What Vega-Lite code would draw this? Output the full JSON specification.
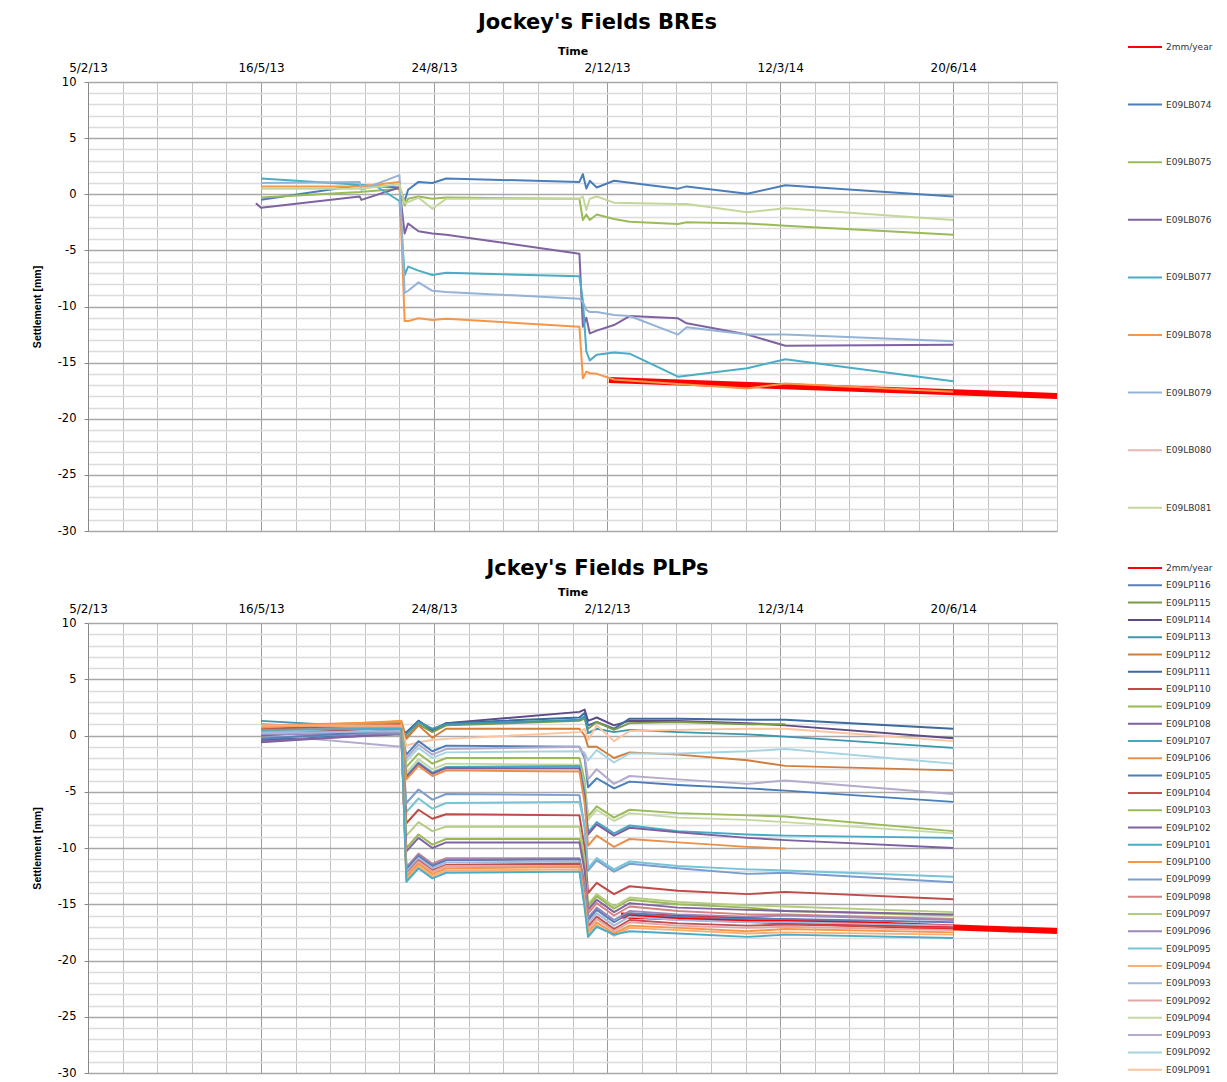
{
"$schema": "https://vega.github.io/schema/vega-lite/v6.json",
"background": "white",
"padding": {"left": 32, "top": 12, "right": 5, "bottom": 3},
"spacing": 21,
"config": {"view": {"stroke": null}, "line": {"strokeJoin": "round"}},
"resolve": {"scale": {"color": "independent"}, "legend": {"color": "independent"}},
"datasets": {
"bre": [
{"s":"2mm/year","t":"2013-12-03","v":-16.55},{"s":"2mm/year","t":"2014-08-19","v":-17.97},
{"s":"E09LB074","t":"2013-05-16","v":-0.5},{"s":"E09LB074","t":"2013-07-12","v":0.8},{"s":"E09LB074","t":"2013-08-04","v":0.6},{"s":"E09LB074","t":"2013-08-07","v":-0.6},{"s":"E09LB074","t":"2013-08-09","v":0.4},{"s":"E09LB074","t":"2013-08-15","v":1.1},{"s":"E09LB074","t":"2013-08-23","v":1.0},{"s":"E09LB074","t":"2013-08-31","v":1.4},{"s":"E09LB074","t":"2013-11-16","v":1.1},{"s":"E09LB074","t":"2013-11-18","v":1.8},{"s":"E09LB074","t":"2013-11-20","v":0.5},{"s":"E09LB074","t":"2013-11-22","v":1.2},{"s":"E09LB074","t":"2013-11-26","v":0.6},{"s":"E09LB074","t":"2013-12-06","v":1.2},{"s":"E09LB074","t":"2014-01-12","v":0.5},{"s":"E09LB074","t":"2014-01-17","v":0.7},{"s":"E09LB074","t":"2014-02-21","v":0.05},{"s":"E09LB074","t":"2014-03-15","v":0.8},{"s":"E09LB074","t":"2014-06-20","v":-0.2},
{"s":"E09LB075","t":"2013-05-16","v":-0.3},{"s":"E09LB075","t":"2013-07-12","v":0.2},{"s":"E09LB075","t":"2013-08-04","v":0.5},{"s":"E09LB075","t":"2013-08-07","v":-1.0},{"s":"E09LB075","t":"2013-08-09","v":-0.4},{"s":"E09LB075","t":"2013-08-15","v":-0.2},{"s":"E09LB075","t":"2013-08-23","v":-0.4},{"s":"E09LB075","t":"2013-08-31","v":-0.3},{"s":"E09LB075","t":"2013-11-16","v":-0.4},{"s":"E09LB075","t":"2013-11-18","v":-2.3},{"s":"E09LB075","t":"2013-11-20","v":-1.8},{"s":"E09LB075","t":"2013-11-22","v":-2.3},{"s":"E09LB075","t":"2013-11-26","v":-1.8},{"s":"E09LB075","t":"2013-12-06","v":-2.2},{"s":"E09LB075","t":"2013-12-15","v":-2.45},{"s":"E09LB075","t":"2014-01-12","v":-2.65},{"s":"E09LB075","t":"2014-01-17","v":-2.5},{"s":"E09LB075","t":"2014-02-21","v":-2.6},{"s":"E09LB075","t":"2014-03-15","v":-2.8},{"s":"E09LB075","t":"2014-06-20","v":-3.6},
{"s":"E09LB076","t":"2013-05-13","v":-0.8},{"s":"E09LB076","t":"2013-05-16","v":-1.2},{"s":"E09LB076","t":"2013-07-12","v":-0.2},{"s":"E09LB076","t":"2013-07-13","v":-0.5},{"s":"E09LB076","t":"2013-08-04","v":0.6},{"s":"E09LB076","t":"2013-08-07","v":-3.5},{"s":"E09LB076","t":"2013-08-09","v":-2.6},{"s":"E09LB076","t":"2013-08-15","v":-3.3},{"s":"E09LB076","t":"2013-08-23","v":-3.5},{"s":"E09LB076","t":"2013-08-31","v":-3.6},{"s":"E09LB076","t":"2013-11-16","v":-5.3},{"s":"E09LB076","t":"2013-11-18","v":-11.8},{"s":"E09LB076","t":"2013-11-20","v":-11.0},{"s":"E09LB076","t":"2013-11-22","v":-12.4},{"s":"E09LB076","t":"2013-11-26","v":-12.15},{"s":"E09LB076","t":"2013-12-06","v":-11.65},{"s":"E09LB076","t":"2013-12-15","v":-10.85},{"s":"E09LB076","t":"2014-01-12","v":-11.05},{"s":"E09LB076","t":"2014-01-17","v":-11.5},{"s":"E09LB076","t":"2014-02-21","v":-12.5},{"s":"E09LB076","t":"2014-03-15","v":-13.5},{"s":"E09LB076","t":"2014-06-20","v":-13.4},
{"s":"E09LB077","t":"2013-05-16","v":1.4},{"s":"E09LB077","t":"2013-07-12","v":0.85},{"s":"E09LB077","t":"2013-07-22","v":0.67},{"s":"E09LB077","t":"2013-08-04","v":-0.6},{"s":"E09LB077","t":"2013-08-07","v":-7.2},{"s":"E09LB077","t":"2013-08-09","v":-6.45},{"s":"E09LB077","t":"2013-08-15","v":-6.8},{"s":"E09LB077","t":"2013-08-23","v":-7.2},{"s":"E09LB077","t":"2013-08-31","v":-7.0},{"s":"E09LB077","t":"2013-11-16","v":-7.3},{"s":"E09LB077","t":"2013-11-18","v":-9.5},{"s":"E09LB077","t":"2013-11-20","v":-14.0},{"s":"E09LB077","t":"2013-11-22","v":-14.8},{"s":"E09LB077","t":"2013-11-26","v":-14.3},{"s":"E09LB077","t":"2013-12-06","v":-14.1},{"s":"E09LB077","t":"2013-12-15","v":-14.2},{"s":"E09LB077","t":"2014-01-12","v":-16.25},{"s":"E09LB077","t":"2014-02-21","v":-15.5},{"s":"E09LB077","t":"2014-03-15","v":-14.7},{"s":"E09LB077","t":"2014-06-20","v":-16.65},
{"s":"E09LB078","t":"2013-05-16","v":0.7},{"s":"E09LB078","t":"2013-07-12","v":0.7},{"s":"E09LB078","t":"2013-08-04","v":1.1},{"s":"E09LB078","t":"2013-08-07","v":-11.3},{"s":"E09LB078","t":"2013-08-09","v":-11.3},{"s":"E09LB078","t":"2013-08-15","v":-11.05},{"s":"E09LB078","t":"2013-08-23","v":-11.2},{"s":"E09LB078","t":"2013-08-31","v":-11.1},{"s":"E09LB078","t":"2013-11-16","v":-11.8},{"s":"E09LB078","t":"2013-11-18","v":-16.4},{"s":"E09LB078","t":"2013-11-20","v":-15.8},{"s":"E09LB078","t":"2013-11-22","v":-15.95},{"s":"E09LB078","t":"2013-11-26","v":-16.0},{"s":"E09LB078","t":"2013-12-06","v":-16.5},{"s":"E09LB078","t":"2014-01-12","v":-16.9},{"s":"E09LB078","t":"2014-02-21","v":-17.3},{"s":"E09LB078","t":"2014-03-15","v":-16.85},{"s":"E09LB078","t":"2014-06-20","v":-17.6},
{"s":"E09LB079","t":"2013-05-16","v":1.0},{"s":"E09LB079","t":"2013-07-12","v":1.1},{"s":"E09LB079","t":"2013-07-13","v":0.4},{"s":"E09LB079","t":"2013-08-04","v":1.7},{"s":"E09LB079","t":"2013-08-07","v":-8.8},{"s":"E09LB079","t":"2013-08-09","v":-8.6},{"s":"E09LB079","t":"2013-08-15","v":-7.85},{"s":"E09LB079","t":"2013-08-23","v":-8.6},{"s":"E09LB079","t":"2013-08-31","v":-8.7},{"s":"E09LB079","t":"2013-11-16","v":-9.3},{"s":"E09LB079","t":"2013-11-18","v":-9.6},{"s":"E09LB079","t":"2013-11-20","v":-10.3},{"s":"E09LB079","t":"2013-11-22","v":-10.5},{"s":"E09LB079","t":"2013-11-26","v":-10.5},{"s":"E09LB079","t":"2013-12-06","v":-10.75},{"s":"E09LB079","t":"2013-12-15","v":-10.85},{"s":"E09LB079","t":"2014-01-12","v":-12.5},{"s":"E09LB079","t":"2014-01-17","v":-11.85},{"s":"E09LB079","t":"2014-02-21","v":-12.5},{"s":"E09LB079","t":"2014-03-15","v":-12.5},{"s":"E09LB079","t":"2014-06-20","v":-13.1},
{"s":"E09LB081","t":"2013-05-16","v":0.5},{"s":"E09LB081","t":"2013-07-12","v":0.5},{"s":"E09LB081","t":"2013-08-04","v":0.9},{"s":"E09LB081","t":"2013-08-07","v":-0.8},{"s":"E09LB081","t":"2013-08-09","v":-0.7},{"s":"E09LB081","t":"2013-08-15","v":-0.3},{"s":"E09LB081","t":"2013-08-23","v":-1.3},{"s":"E09LB081","t":"2013-08-31","v":-0.4},{"s":"E09LB081","t":"2013-11-16","v":-0.4},{"s":"E09LB081","t":"2013-11-18","v":-0.2},{"s":"E09LB081","t":"2013-11-20","v":-1.4},{"s":"E09LB081","t":"2013-11-22","v":-0.4},{"s":"E09LB081","t":"2013-11-26","v":-0.2},{"s":"E09LB081","t":"2013-12-06","v":-0.75},{"s":"E09LB081","t":"2014-01-12","v":-0.86},{"s":"E09LB081","t":"2014-01-17","v":-0.86},{"s":"E09LB081","t":"2014-02-21","v":-1.6},{"s":"E09LB081","t":"2014-03-15","v":-1.25},{"s":"E09LB081","t":"2014-06-20","v":-2.3}
],
"plp": [
{"s":"2mm/year","t":"2013-12-10","v":-16.0},{"s":"2mm/year","t":"2014-08-19","v":-17.38},
{"s":"E09LP114","t":"2013-05-16","v":-0.5},{"s":"E09LP114","t":"2013-08-05","v":0.5},{"s":"E09LP114","t":"2013-08-08","v":0.2},{"s":"E09LP114","t":"2013-08-15","v":1.3},{"s":"E09LP114","t":"2013-08-23","v":0.5},{"s":"E09LP114","t":"2013-08-31","v":1.1},{"s":"E09LP114","t":"2013-11-16","v":2.1},{"s":"E09LP114","t":"2013-11-19","v":2.3},{"s":"E09LP114","t":"2013-11-21","v":1.3},{"s":"E09LP114","t":"2013-11-26","v":1.6},{"s":"E09LP114","t":"2013-12-06","v":0.9},{"s":"E09LP114","t":"2013-12-15","v":1.3},{"s":"E09LP114","t":"2014-01-12","v":1.3},{"s":"E09LP114","t":"2014-02-21","v":1.1},{"s":"E09LP114","t":"2014-03-15","v":0.9},{"s":"E09LP114","t":"2014-06-20","v":-0.25},
{"s":"E09LP111","t":"2013-05-16","v":-0.4},{"s":"E09LP111","t":"2013-08-05","v":0.4},{"s":"E09LP111","t":"2013-08-08","v":0.3},{"s":"E09LP111","t":"2013-08-15","v":1.3},{"s":"E09LP111","t":"2013-08-23","v":0.4},{"s":"E09LP111","t":"2013-08-31","v":1.1},{"s":"E09LP111","t":"2013-11-16","v":1.6},{"s":"E09LP111","t":"2013-11-19","v":2.0},{"s":"E09LP111","t":"2013-11-21","v":0.9},{"s":"E09LP111","t":"2013-11-26","v":1.2},{"s":"E09LP111","t":"2013-12-06","v":0.6},{"s":"E09LP111","t":"2013-12-15","v":1.5},{"s":"E09LP111","t":"2014-01-12","v":1.5},{"s":"E09LP111","t":"2014-02-21","v":1.4},{"s":"E09LP111","t":"2014-03-15","v":1.4},{"s":"E09LP111","t":"2014-06-20","v":0.6},
{"s":"E09LP115","t":"2013-05-16","v":0.8},{"s":"E09LP115","t":"2013-08-05","v":1.0},{"s":"E09LP115","t":"2013-08-08","v":-0.2},{"s":"E09LP115","t":"2013-08-15","v":1.0},{"s":"E09LP115","t":"2013-08-23","v":0.3},{"s":"E09LP115","t":"2013-08-31","v":0.9},{"s":"E09LP115","t":"2013-11-16","v":1.3},{"s":"E09LP115","t":"2013-11-19","v":1.5},{"s":"E09LP115","t":"2013-11-21","v":0.6},{"s":"E09LP115","t":"2013-11-26","v":1.2},{"s":"E09LP115","t":"2013-12-06","v":0.5},{"s":"E09LP115","t":"2013-12-15","v":1.1},{"s":"E09LP115","t":"2014-01-12","v":1.2},{"s":"E09LP115","t":"2014-02-21","v":1.0},{"s":"E09LP115","t":"2014-03-15","v":1.0},
{"s":"E09LP113","t":"2013-05-16","v":1.3},{"s":"E09LP113","t":"2013-08-05","v":0.6},{"s":"E09LP113","t":"2013-08-08","v":0.1},{"s":"E09LP113","t":"2013-08-15","v":1.2},{"s":"E09LP113","t":"2013-08-23","v":0.6},{"s":"E09LP113","t":"2013-08-31","v":1.0},{"s":"E09LP113","t":"2013-11-16","v":1.4},{"s":"E09LP113","t":"2013-11-19","v":1.7},{"s":"E09LP113","t":"2013-11-21","v":0.2},{"s":"E09LP113","t":"2013-11-26","v":0.6},{"s":"E09LP113","t":"2013-12-06","v":0.3},{"s":"E09LP113","t":"2013-12-15","v":0.5},{"s":"E09LP113","t":"2014-01-12","v":0.3},{"s":"E09LP113","t":"2014-02-21","v":0.1},{"s":"E09LP113","t":"2014-03-15","v":-0.1},{"s":"E09LP113","t":"2014-06-20","v":-1.1},
{"s":"E09LP112","t":"2013-05-16","v":0.2},{"s":"E09LP112","t":"2013-08-05","v":1.3},{"s":"E09LP112","t":"2013-08-08","v":-0.3},{"s":"E09LP112","t":"2013-08-15","v":0.9},{"s":"E09LP112","t":"2013-08-23","v":-0.2},{"s":"E09LP112","t":"2013-08-31","v":0.6},{"s":"E09LP112","t":"2013-11-16","v":0.6},{"s":"E09LP112","t":"2013-11-19","v":0.0},{"s":"E09LP112","t":"2013-11-21","v":-1.0},{"s":"E09LP112","t":"2013-11-26","v":-1.0},{"s":"E09LP112","t":"2013-12-06","v":-2.0},{"s":"E09LP112","t":"2013-12-15","v":-1.5},{"s":"E09LP112","t":"2014-01-12","v":-1.7},{"s":"E09LP112","t":"2014-02-21","v":-2.2},{"s":"E09LP112","t":"2014-03-15","v":-2.7},{"s":"E09LP112","t":"2014-06-20","v":-3.1},
{"s":"E09LP091","t":"2013-05-16","v":0.8},{"s":"E09LP091","t":"2013-08-05","v":0.9},{"s":"E09LP091","t":"2013-08-08","v":-0.9},{"s":"E09LP091","t":"2013-08-15","v":-0.6},{"s":"E09LP091","t":"2013-08-23","v":-0.4},{"s":"E09LP091","t":"2013-08-31","v":-0.3},{"s":"E09LP091","t":"2013-11-16","v":0.3},{"s":"E09LP091","t":"2013-11-19","v":0.6},{"s":"E09LP091","t":"2013-11-21","v":-0.4},{"s":"E09LP091","t":"2013-11-26","v":0.9},{"s":"E09LP091","t":"2013-12-06","v":-0.5},{"s":"E09LP091","t":"2013-12-15","v":0.4},{"s":"E09LP091","t":"2014-01-12","v":0.5},{"s":"E09LP091","t":"2014-02-21","v":0.6},{"s":"E09LP091","t":"2014-03-15","v":0.6},{"s":"E09LP091","t":"2014-06-20","v":-0.5},
{"s":"E09LP105","t":"2013-05-16","v":-0.3},{"s":"E09LP105","t":"2013-08-05","v":0.3},{"s":"E09LP105","t":"2013-08-08","v":-1.7},{"s":"E09LP105","t":"2013-08-15","v":-0.5},{"s":"E09LP105","t":"2013-08-23","v":-1.4},{"s":"E09LP105","t":"2013-08-31","v":-0.9},{"s":"E09LP105","t":"2013-11-16","v":-1.0},{"s":"E09LP105","t":"2013-11-19","v":-2.0},{"s":"E09LP105","t":"2013-11-21","v":-4.6},{"s":"E09LP105","t":"2013-11-26","v":-3.8},{"s":"E09LP105","t":"2013-12-06","v":-4.7},{"s":"E09LP105","t":"2013-12-15","v":-4.1},{"s":"E09LP105","t":"2014-01-12","v":-4.4},{"s":"E09LP105","t":"2014-02-21","v":-4.7},{"s":"E09LP105","t":"2014-03-15","v":-4.9},{"s":"E09LP105","t":"2014-06-20","v":-5.9},
{"s":"E09LP092b","t":"2013-05-16","v":0.4},{"s":"E09LP092b","t":"2013-08-05","v":0.6},{"s":"E09LP092b","t":"2013-08-08","v":-2.3},{"s":"E09LP092b","t":"2013-08-15","v":-1.1},{"s":"E09LP092b","t":"2013-08-23","v":-2.0},{"s":"E09LP092b","t":"2013-08-31","v":-1.5},{"s":"E09LP092b","t":"2013-11-16","v":-1.4},{"s":"E09LP092b","t":"2013-11-19","v":-1.5},{"s":"E09LP092b","t":"2013-11-21","v":-2.2},{"s":"E09LP092b","t":"2013-11-26","v":-1.3},{"s":"E09LP092b","t":"2013-12-06","v":-2.4},{"s":"E09LP092b","t":"2013-12-15","v":-1.6},{"s":"E09LP092b","t":"2014-01-12","v":-1.6},{"s":"E09LP092b","t":"2014-02-21","v":-1.4},{"s":"E09LP092b","t":"2014-03-15","v":-1.2},{"s":"E09LP092b","t":"2014-06-20","v":-2.5},
{"s":"E09LP093b","t":"2013-05-16","v":0.1},{"s":"E09LP093b","t":"2013-08-05","v":-1.0},{"s":"E09LP093b","t":"2013-08-08","v":-2.0},{"s":"E09LP093b","t":"2013-08-15","v":-0.8},{"s":"E09LP093b","t":"2013-08-23","v":-1.7},{"s":"E09LP093b","t":"2013-08-31","v":-1.2},{"s":"E09LP093b","t":"2013-11-16","v":-1.0},{"s":"E09LP093b","t":"2013-11-19","v":-1.8},{"s":"E09LP093b","t":"2013-11-21","v":-3.9},{"s":"E09LP093b","t":"2013-11-26","v":-3.0},{"s":"E09LP093b","t":"2013-12-06","v":-4.3},{"s":"E09LP093b","t":"2013-12-15","v":-3.6},{"s":"E09LP093b","t":"2014-01-12","v":-3.9},{"s":"E09LP093b","t":"2014-02-21","v":-4.3},{"s":"E09LP093b","t":"2014-03-15","v":-4.0},{"s":"E09LP093b","t":"2014-06-20","v":-5.2},
{"s":"E09LP103","t":"2013-05-16","v":0.6},{"s":"E09LP103","t":"2013-08-05","v":0.9},{"s":"E09LP103","t":"2013-08-08","v":-2.8},{"s":"E09LP103","t":"2013-08-15","v":-1.6},{"s":"E09LP103","t":"2013-08-23","v":-2.5},{"s":"E09LP103","t":"2013-08-31","v":-2.0},{"s":"E09LP103","t":"2013-11-16","v":-2.0},{"s":"E09LP103","t":"2013-11-19","v":-4.0},{"s":"E09LP103","t":"2013-11-21","v":-7.2},{"s":"E09LP103","t":"2013-11-26","v":-6.3},{"s":"E09LP103","t":"2013-12-06","v":-7.3},{"s":"E09LP103","t":"2013-12-15","v":-6.6},{"s":"E09LP103","t":"2014-01-12","v":-6.9},{"s":"E09LP103","t":"2014-02-21","v":-7.1},{"s":"E09LP103","t":"2014-03-15","v":-7.2},{"s":"E09LP103","t":"2014-06-20","v":-8.5},
{"s":"E09LP094b","t":"2013-05-16","v":0.5},{"s":"E09LP094b","t":"2013-08-05","v":0.7},{"s":"E09LP094b","t":"2013-08-08","v":-3.3},{"s":"E09LP094b","t":"2013-08-15","v":-2.1},{"s":"E09LP094b","t":"2013-08-23","v":-3.0},{"s":"E09LP094b","t":"2013-08-31","v":-2.5},{"s":"E09LP094b","t":"2013-11-16","v":-2.6},{"s":"E09LP094b","t":"2013-11-19","v":-4.5},{"s":"E09LP094b","t":"2013-11-21","v":-7.5},{"s":"E09LP094b","t":"2013-11-26","v":-6.6},{"s":"E09LP094b","t":"2013-12-06","v":-7.6},{"s":"E09LP094b","t":"2013-12-15","v":-6.9},{"s":"E09LP094b","t":"2014-01-12","v":-7.3},{"s":"E09LP094b","t":"2014-02-21","v":-7.5},{"s":"E09LP094b","t":"2014-03-15","v":-7.7},{"s":"E09LP094b","t":"2014-06-20","v":-8.7},
{"s":"E09LP107","t":"2013-05-16","v":1.0},{"s":"E09LP107","t":"2013-08-05","v":0.5},{"s":"E09LP107","t":"2013-08-08","v":-3.6},{"s":"E09LP107","t":"2013-08-15","v":-2.4},{"s":"E09LP107","t":"2013-08-23","v":-3.3},{"s":"E09LP107","t":"2013-08-31","v":-2.8},{"s":"E09LP107","t":"2013-11-16","v":-2.7},{"s":"E09LP107","t":"2013-11-19","v":-5.0},{"s":"E09LP107","t":"2013-11-21","v":-8.6},{"s":"E09LP107","t":"2013-11-26","v":-7.7},{"s":"E09LP107","t":"2013-12-06","v":-8.7},{"s":"E09LP107","t":"2013-12-15","v":-8.0},{"s":"E09LP107","t":"2014-01-12","v":-8.5},{"s":"E09LP107","t":"2014-02-21","v":-8.8},{"s":"E09LP107","t":"2014-03-15","v":-8.9},{"s":"E09LP107","t":"2014-06-20","v":-9.1},
{"s":"E09LP108","t":"2013-05-16","v":-0.6},{"s":"E09LP108","t":"2013-08-05","v":0.2},{"s":"E09LP108","t":"2013-08-08","v":-3.7},{"s":"E09LP108","t":"2013-08-15","v":-2.5},{"s":"E09LP108","t":"2013-08-23","v":-3.4},{"s":"E09LP108","t":"2013-08-31","v":-2.9},{"s":"E09LP108","t":"2013-11-16","v":-2.9},{"s":"E09LP108","t":"2013-11-19","v":-5.5},{"s":"E09LP108","t":"2013-11-21","v":-8.8},{"s":"E09LP108","t":"2013-11-26","v":-7.9},{"s":"E09LP108","t":"2013-12-06","v":-8.9},{"s":"E09LP108","t":"2013-12-15","v":-8.2},{"s":"E09LP108","t":"2014-01-12","v":-8.6},{"s":"E09LP108","t":"2014-02-21","v":-9.1},{"s":"E09LP108","t":"2014-03-15","v":-9.3},{"s":"E09LP108","t":"2014-06-20","v":-10.0},
{"s":"E09LP106","t":"2013-05-16","v":0.9},{"s":"E09LP106","t":"2013-08-05","v":1.2},{"s":"E09LP106","t":"2013-08-08","v":-3.9},{"s":"E09LP106","t":"2013-08-15","v":-2.7},{"s":"E09LP106","t":"2013-08-23","v":-3.6},{"s":"E09LP106","t":"2013-08-31","v":-3.1},{"s":"E09LP106","t":"2013-11-16","v":-3.2},{"s":"E09LP106","t":"2013-11-19","v":-6.0},{"s":"E09LP106","t":"2013-11-21","v":-9.8},{"s":"E09LP106","t":"2013-11-26","v":-8.9},{"s":"E09LP106","t":"2013-12-06","v":-9.9},{"s":"E09LP106","t":"2013-12-15","v":-9.2},{"s":"E09LP106","t":"2014-01-12","v":-9.5},{"s":"E09LP106","t":"2014-02-21","v":-9.9},{"s":"E09LP106","t":"2014-03-15","v":-10.05},
{"s":"E09LP099","t":"2013-05-16","v":-0.2},{"s":"E09LP099","t":"2013-08-05","v":0.3},{"s":"E09LP099","t":"2013-08-08","v":-6.0},{"s":"E09LP099","t":"2013-08-15","v":-4.8},{"s":"E09LP099","t":"2013-08-23","v":-5.7},{"s":"E09LP099","t":"2013-08-31","v":-5.2},{"s":"E09LP099","t":"2013-11-16","v":-5.3},{"s":"E09LP099","t":"2013-11-19","v":-8.2},{"s":"E09LP099","t":"2013-11-21","v":-12.0},{"s":"E09LP099","t":"2013-11-26","v":-11.1},{"s":"E09LP099","t":"2013-12-06","v":-12.1},{"s":"E09LP099","t":"2013-12-15","v":-11.4},{"s":"E09LP099","t":"2014-01-12","v":-11.8},{"s":"E09LP099","t":"2014-02-21","v":-12.3},{"s":"E09LP099","t":"2014-03-15","v":-12.2},{"s":"E09LP099","t":"2014-06-20","v":-13.05},
{"s":"E09LP095","t":"2013-05-16","v":0.3},{"s":"E09LP095","t":"2013-08-05","v":0.4},{"s":"E09LP095","t":"2013-08-08","v":-6.8},{"s":"E09LP095","t":"2013-08-15","v":-5.6},{"s":"E09LP095","t":"2013-08-23","v":-6.5},{"s":"E09LP095","t":"2013-08-31","v":-6.0},{"s":"E09LP095","t":"2013-11-16","v":-5.9},{"s":"E09LP095","t":"2013-11-19","v":-8.0},{"s":"E09LP095","t":"2013-11-21","v":-11.8},{"s":"E09LP095","t":"2013-11-26","v":-10.9},{"s":"E09LP095","t":"2013-12-06","v":-11.9},{"s":"E09LP095","t":"2013-12-15","v":-11.2},{"s":"E09LP095","t":"2014-01-12","v":-11.6},{"s":"E09LP095","t":"2014-02-21","v":-11.9},{"s":"E09LP095","t":"2014-03-15","v":-12.0},{"s":"E09LP095","t":"2014-06-20","v":-12.55},
{"s":"E09LP110","t":"2013-05-16","v":0.0},{"s":"E09LP110","t":"2013-08-05","v":0.8},{"s":"E09LP110","t":"2013-08-08","v":-7.8},{"s":"E09LP110","t":"2013-08-15","v":-6.6},{"s":"E09LP110","t":"2013-08-23","v":-7.4},{"s":"E09LP110","t":"2013-08-31","v":-7.0},{"s":"E09LP110","t":"2013-11-16","v":-7.1},{"s":"E09LP110","t":"2013-11-19","v":-10.0},{"s":"E09LP110","t":"2013-11-21","v":-14.0},{"s":"E09LP110","t":"2013-11-26","v":-13.1},{"s":"E09LP110","t":"2013-12-06","v":-14.1},{"s":"E09LP110","t":"2013-12-15","v":-13.4},{"s":"E09LP110","t":"2014-01-12","v":-13.8},{"s":"E09LP110","t":"2014-02-21","v":-14.1},{"s":"E09LP110","t":"2014-03-15","v":-13.9},{"s":"E09LP110","t":"2014-06-20","v":-14.55},
{"s":"E09LP097","t":"2013-05-16","v":0.7},{"s":"E09LP097","t":"2013-08-05","v":0.6},{"s":"E09LP097","t":"2013-08-08","v":-8.9},{"s":"E09LP097","t":"2013-08-15","v":-7.7},{"s":"E09LP097","t":"2013-08-23","v":-8.5},{"s":"E09LP097","t":"2013-08-31","v":-8.1},{"s":"E09LP097","t":"2013-11-16","v":-8.1},{"s":"E09LP097","t":"2013-11-19","v":-11.0},{"s":"E09LP097","t":"2013-11-21","v":-15.0},{"s":"E09LP097","t":"2013-11-26","v":-14.1},{"s":"E09LP097","t":"2013-12-06","v":-15.2},{"s":"E09LP097","t":"2013-12-15","v":-14.4},{"s":"E09LP097","t":"2014-01-12","v":-14.8},{"s":"E09LP097","t":"2014-02-21","v":-15.1},{"s":"E09LP097","t":"2014-03-15","v":-15.2},{"s":"E09LP097","t":"2014-06-20","v":-15.7},
{"s":"E09LP109","t":"2013-05-16","v":0.4},{"s":"E09LP109","t":"2013-08-05","v":1.1},{"s":"E09LP109","t":"2013-08-08","v":-10.0},{"s":"E09LP109","t":"2013-08-15","v":-8.8},{"s":"E09LP109","t":"2013-08-23","v":-9.7},{"s":"E09LP109","t":"2013-08-31","v":-9.2},{"s":"E09LP109","t":"2013-11-16","v":-9.2},{"s":"E09LP109","t":"2013-11-19","v":-11.5},{"s":"E09LP109","t":"2013-11-21","v":-15.2},{"s":"E09LP109","t":"2013-11-26","v":-14.3},{"s":"E09LP109","t":"2013-12-06","v":-15.4},{"s":"E09LP109","t":"2013-12-15","v":-14.6},{"s":"E09LP109","t":"2014-01-12","v":-15.0},{"s":"E09LP109","t":"2014-02-21","v":-15.3},{"s":"E09LP109","t":"2014-03-15","v":-15.6},{"s":"E09LP109","t":"2014-06-20","v":-16.0},
{"s":"E09LP102","t":"2013-05-16","v":-0.5},{"s":"E09LP102","t":"2013-08-05","v":0.1},{"s":"E09LP102","t":"2013-08-08","v":-10.3},{"s":"E09LP102","t":"2013-08-15","v":-9.1},{"s":"E09LP102","t":"2013-08-23","v":-10.0},{"s":"E09LP102","t":"2013-08-31","v":-9.5},{"s":"E09LP102","t":"2013-11-16","v":-9.5},{"s":"E09LP102","t":"2013-11-19","v":-12.0},{"s":"E09LP102","t":"2013-11-21","v":-15.5},{"s":"E09LP102","t":"2013-11-26","v":-14.6},{"s":"E09LP102","t":"2013-12-06","v":-15.7},{"s":"E09LP102","t":"2013-12-15","v":-14.9},{"s":"E09LP102","t":"2014-01-12","v":-15.3},{"s":"E09LP102","t":"2014-02-21","v":-15.5},{"s":"E09LP102","t":"2014-03-15","v":-15.6},{"s":"E09LP102","t":"2014-06-20","v":-15.9},
{"s":"E09LP098","t":"2013-05-16","v":0.5},{"s":"E09LP098","t":"2013-08-05","v":0.7},{"s":"E09LP098","t":"2013-08-08","v":-11.7},{"s":"E09LP098","t":"2013-08-15","v":-10.5},{"s":"E09LP098","t":"2013-08-23","v":-11.4},{"s":"E09LP098","t":"2013-08-31","v":-10.9},{"s":"E09LP098","t":"2013-11-16","v":-10.9},{"s":"E09LP098","t":"2013-11-19","v":-13.0},{"s":"E09LP098","t":"2013-11-21","v":-15.8},{"s":"E09LP098","t":"2013-11-26","v":-14.9},{"s":"E09LP098","t":"2013-12-06","v":-16.0},{"s":"E09LP098","t":"2013-12-15","v":-15.2},{"s":"E09LP098","t":"2014-01-12","v":-15.6},{"s":"E09LP098","t":"2014-02-21","v":-15.9},{"s":"E09LP098","t":"2014-03-15","v":-15.9},{"s":"E09LP098","t":"2014-06-20","v":-16.3},
{"s":"E09LP096","t":"2013-05-16","v":0.1},{"s":"E09LP096","t":"2013-08-05","v":0.2},{"s":"E09LP096","t":"2013-08-08","v":-11.8},{"s":"E09LP096","t":"2013-08-15","v":-10.6},{"s":"E09LP096","t":"2013-08-23","v":-11.5},{"s":"E09LP096","t":"2013-08-31","v":-11.0},{"s":"E09LP096","t":"2013-11-16","v":-11.0},{"s":"E09LP096","t":"2013-11-19","v":-13.5},{"s":"E09LP096","t":"2013-11-21","v":-16.2},{"s":"E09LP096","t":"2013-11-26","v":-15.3},{"s":"E09LP096","t":"2013-12-06","v":-16.4},{"s":"E09LP096","t":"2013-12-15","v":-15.6},{"s":"E09LP096","t":"2014-01-12","v":-15.9},{"s":"E09LP096","t":"2014-02-21","v":-16.1},{"s":"E09LP096","t":"2014-03-15","v":-16.0},{"s":"E09LP096","t":"2014-06-20","v":-16.4},
{"s":"E09LP116","t":"2013-05-16","v":-0.3},{"s":"E09LP116","t":"2013-08-05","v":0.5},{"s":"E09LP116","t":"2013-08-08","v":-11.9},{"s":"E09LP116","t":"2013-08-15","v":-10.7},{"s":"E09LP116","t":"2013-08-23","v":-11.6},{"s":"E09LP116","t":"2013-08-31","v":-11.1},{"s":"E09LP116","t":"2013-11-16","v":-11.0},{"s":"E09LP116","t":"2013-11-19","v":-13.8},{"s":"E09LP116","t":"2013-11-21","v":-16.4},{"s":"E09LP116","t":"2013-11-26","v":-15.5},{"s":"E09LP116","t":"2013-12-06","v":-16.6},{"s":"E09LP116","t":"2013-12-15","v":-15.8},{"s":"E09LP116","t":"2014-01-12","v":-16.1},{"s":"E09LP116","t":"2014-02-21","v":-16.3},{"s":"E09LP116","t":"2014-03-15","v":-16.3},{"s":"E09LP116","t":"2014-06-20","v":-16.6},
{"s":"E09LP093","t":"2013-05-16","v":0.2},{"s":"E09LP093","t":"2013-08-05","v":0.4},{"s":"E09LP093","t":"2013-08-08","v":-12.1},{"s":"E09LP093","t":"2013-08-15","v":-10.9},{"s":"E09LP093","t":"2013-08-23","v":-11.8},{"s":"E09LP093","t":"2013-08-31","v":-11.3},{"s":"E09LP093","t":"2013-11-16","v":-11.2},{"s":"E09LP093","t":"2013-11-19","v":-14.0},{"s":"E09LP093","t":"2013-11-21","v":-16.7},{"s":"E09LP093","t":"2013-11-26","v":-15.8},{"s":"E09LP093","t":"2013-12-06","v":-16.9},{"s":"E09LP093","t":"2013-12-15","v":-16.1},{"s":"E09LP093","t":"2014-01-12","v":-16.4},{"s":"E09LP093","t":"2014-02-21","v":-16.6},{"s":"E09LP093","t":"2014-03-15","v":-16.6},{"s":"E09LP093","t":"2014-06-20","v":-16.9},
{"s":"E09LP104","t":"2013-05-16","v":0.6},{"s":"E09LP104","t":"2013-08-05","v":1.0},{"s":"E09LP104","t":"2013-08-08","v":-12.3},{"s":"E09LP104","t":"2013-08-15","v":-11.1},{"s":"E09LP104","t":"2013-08-23","v":-12.0},{"s":"E09LP104","t":"2013-08-31","v":-11.5},{"s":"E09LP104","t":"2013-11-16","v":-11.4},{"s":"E09LP104","t":"2013-11-19","v":-14.3},{"s":"E09LP104","t":"2013-11-21","v":-17.0},{"s":"E09LP104","t":"2013-11-26","v":-16.1},{"s":"E09LP104","t":"2013-12-06","v":-17.2},{"s":"E09LP104","t":"2013-12-15","v":-16.4},{"s":"E09LP104","t":"2014-01-12","v":-16.7},{"s":"E09LP104","t":"2014-02-21","v":-16.9},{"s":"E09LP104","t":"2014-03-15","v":-16.8},{"s":"E09LP104","t":"2014-06-20","v":-17.1},
{"s":"E09LP092","t":"2013-05-16","v":0.9},{"s":"E09LP092","t":"2013-08-05","v":0.8},{"s":"E09LP092","t":"2013-08-08","v":-12.4},{"s":"E09LP092","t":"2013-08-15","v":-11.2},{"s":"E09LP092","t":"2013-08-23","v":-12.1},{"s":"E09LP092","t":"2013-08-31","v":-11.6},{"s":"E09LP092","t":"2013-11-16","v":-11.6},{"s":"E09LP092","t":"2013-11-19","v":-14.5},{"s":"E09LP092","t":"2013-11-21","v":-17.2},{"s":"E09LP092","t":"2013-11-26","v":-16.3},{"s":"E09LP092","t":"2013-12-06","v":-17.4},{"s":"E09LP092","t":"2013-12-15","v":-16.6},{"s":"E09LP092","t":"2014-01-12","v":-16.9},{"s":"E09LP092","t":"2014-02-21","v":-17.1},{"s":"E09LP092","t":"2014-03-15","v":-17.0},{"s":"E09LP092","t":"2014-06-20","v":-17.3},
{"s":"E09LP100","t":"2013-05-16","v":0.7},{"s":"E09LP100","t":"2013-08-05","v":1.3},{"s":"E09LP100","t":"2013-08-08","v":-12.6},{"s":"E09LP100","t":"2013-08-15","v":-11.4},{"s":"E09LP100","t":"2013-08-23","v":-12.3},{"s":"E09LP100","t":"2013-08-31","v":-11.8},{"s":"E09LP100","t":"2013-11-16","v":-11.7},{"s":"E09LP100","t":"2013-11-19","v":-14.8},{"s":"E09LP100","t":"2013-11-21","v":-17.5},{"s":"E09LP100","t":"2013-11-26","v":-16.6},{"s":"E09LP100","t":"2013-12-06","v":-17.6},{"s":"E09LP100","t":"2013-12-15","v":-16.9},{"s":"E09LP100","t":"2014-01-12","v":-17.1},{"s":"E09LP100","t":"2014-02-21","v":-17.4},{"s":"E09LP100","t":"2014-03-15","v":-17.2},{"s":"E09LP100","t":"2014-06-20","v":-17.5},
{"s":"E09LP094","t":"2013-05-16","v":0.9},{"s":"E09LP094","t":"2013-08-05","v":0.9},{"s":"E09LP094","t":"2013-08-08","v":-12.8},{"s":"E09LP094","t":"2013-08-15","v":-11.6},{"s":"E09LP094","t":"2013-08-23","v":-12.5},{"s":"E09LP094","t":"2013-08-31","v":-12.0},{"s":"E09LP094","t":"2013-11-16","v":-11.9},{"s":"E09LP094","t":"2013-11-19","v":-15.0},{"s":"E09LP094","t":"2013-11-21","v":-17.7},{"s":"E09LP094","t":"2013-11-26","v":-16.8},{"s":"E09LP094","t":"2013-12-06","v":-17.8},{"s":"E09LP094","t":"2013-12-15","v":-17.1},{"s":"E09LP094","t":"2014-01-12","v":-17.3},{"s":"E09LP094","t":"2014-02-21","v":-17.6},{"s":"E09LP094","t":"2014-03-15","v":-17.5},{"s":"E09LP094","t":"2014-06-20","v":-17.7},
{"s":"E09LP101","t":"2013-05-16","v":0.5},{"s":"E09LP101","t":"2013-08-05","v":0.6},{"s":"E09LP101","t":"2013-08-08","v":-13.0},{"s":"E09LP101","t":"2013-08-15","v":-11.8},{"s":"E09LP101","t":"2013-08-23","v":-12.7},{"s":"E09LP101","t":"2013-08-31","v":-12.2},{"s":"E09LP101","t":"2013-11-16","v":-12.1},{"s":"E09LP101","t":"2013-11-19","v":-15.3},{"s":"E09LP101","t":"2013-11-21","v":-17.9},{"s":"E09LP101","t":"2013-11-26","v":-17.0},{"s":"E09LP101","t":"2013-12-06","v":-17.7},{"s":"E09LP101","t":"2013-12-15","v":-17.4},{"s":"E09LP101","t":"2014-01-12","v":-17.6},{"s":"E09LP101","t":"2014-02-21","v":-17.9},{"s":"E09LP101","t":"2014-03-15","v":-17.7},{"s":"E09LP101","t":"2014-06-20","v":-18.0}
]
},
"vconcat": [
{
"width": 969, "height": 449,
"title": {"text": "Jockey's Fields BREs", "font": "DejaVu Sans", "fontSize": 21, "fontWeight": "bold", "color": "#000000", "anchor": "middle", "frame": "group", "dx": 25, "offset": 8},
"data": {"name": "bre"},
"mark": {"type": "line"},
"encoding": {
"x": {"field": "t", "type": "temporal", "scale": {"type": "utc", "domain": [1360022400000, 1408406400000], "nice": false},
 "axis": {"orient": "top", "title": "Time", "titleFont": "DejaVu Sans", "titleFontSize": 11, "titleFontWeight": "bold", "titleColor": "#000000", "titlePadding": 5,
 "values": [1360022400000,1361750400000,1363478400000,1365206400000,1366934400000,1368662400000,1370390400000,1372118400000,1373846400000,1375574400000,1377302400000,1379030400000,1380758400000,1382486400000,1384214400000,1385942400000,1387670400000,1389398400000,1391126400000,1392854400000,1394582400000,1396310400000,1398038400000,1399766400000,1401494400000,1403222400000,1404950400000,1406678400000,1408406400000],
 "format": "%-d/%-m/%y", "labelExpr": "(datum.value - 1360022400000) % 8640000000 === 0 ? datum.label : ''",
 "labelFont": "DejaVu Sans", "labelFontSize": 12, "labelColor": "#000000", "labelPadding": 8, "labelAngle": 0, "labelOverlap": false, "labelFlush": false, "labelBound": false,
 "ticks": false, "domain": false, "grid": true, "gridWidth": 1,
 "gridColor": {"condition": {"test": "(datum.value - 1360022400000) % 8640000000 === 0", "value": "#9a9a9a"}, "value": "#c4c4c4"}}},
"y": {"field": "v", "type": "quantitative", "scale": {"domain": [-30, 10], "nice": false, "zero": false},
 "axis": {"title": "Settlement [mm]", "titleFont": "Liberation Sans", "titleFontSize": 10.5, "titleFontWeight": "bold", "titleColor": "#000000", "titlePadding": 15,
 "values": [-30,-29,-28,-27,-26,-25,-24,-23,-22,-21,-20,-19,-18,-17,-16,-15,-14,-13,-12,-11,-10,-9,-8,-7,-6,-5,-4,-3,-2,-1,0,1,2,3,4,5,6,7,8,9,10],
 "labelExpr": "datum.value % 5 === 0 ? '' + datum.value : ''",
 "labelFont": "DejaVu Sans", "labelFontSize": 11.5, "labelColor": "#000000", "labelPadding": 8, "labelOverlap": false, "labelFlush": false, "labelBound": false,
 "ticks": true, "tickSize": 4, "tickColor": {"condition": {"test": "datum.value % 5 === 0", "value": "#888888"}, "value": "transparent"},
 "domain": true, "domainColor": "#888888",
 "grid": true, "gridWidth": 1.5,
 "gridColor": {"condition": {"test": "datum.value % 5 === 0", "value": "#a8a8a8"}, "value": "#dcdcdc"}}},
"color": {"field": "s", "type": "nominal",
 "scale": {"domain": ["2mm/year","E09LB074","E09LB075","E09LB076","E09LB077","E09LB078","E09LB079","E09LB080","E09LB081"],
  "range": ["#ff0000","#4a7ebb","#9bbb59","#7f63a1","#4bacc6","#f79646","#95b3d7","#e6b9b8","#c4d79b"]},
 "legend": {"orient": "none", "legendX": 1039, "legendY": -41, "direction": "vertical", "title": null, "padding": 0,
  "symbolType": "stroke", "symbolSize": 1156, "symbolStrokeWidth": 2, "clipHeight": 12, "rowPadding": 45.6,
  "labelFont": "DejaVu Sans", "labelFontSize": 9, "labelColor": "#333333", "labelOffset": 3, "labelLimit": 200,
  "labelExpr": "slice(datum.label, 0, 8)",
  "encode": {"symbols": {"update": {"strokeWidth": {"signal": "datum.value === '2mm/year' ? 3.5 : 2"}}}}}},
"strokeWidth": {"condition": {"test": "datum.s === '2mm/year'", "value": 6}, "value": 2}
}
},
{
"width": 969, "height": 450,
"title": {"text": "Jckey's Fields PLPs", "font": "DejaVu Sans", "fontSize": 21, "fontWeight": "bold", "color": "#000000", "anchor": "middle", "frame": "group", "dx": 25, "offset": -17},
"data": {"name": "plp"},
"mark": {"type": "line"},
"encoding": {
"x": {"field": "t", "type": "temporal", "scale": {"type": "utc", "domain": [1360022400000, 1408406400000], "nice": false},
 "axis": {"orient": "top", "title": "Time", "titleFont": "DejaVu Sans", "titleFontSize": 11, "titleFontWeight": "bold", "titleColor": "#000000", "titlePadding": 5,
 "values": [1360022400000,1361750400000,1363478400000,1365206400000,1366934400000,1368662400000,1370390400000,1372118400000,1373846400000,1375574400000,1377302400000,1379030400000,1380758400000,1382486400000,1384214400000,1385942400000,1387670400000,1389398400000,1391126400000,1392854400000,1394582400000,1396310400000,1398038400000,1399766400000,1401494400000,1403222400000,1404950400000,1406678400000,1408406400000],
 "format": "%-d/%-m/%y", "labelExpr": "(datum.value - 1360022400000) % 8640000000 === 0 ? datum.label : ''",
 "labelFont": "DejaVu Sans", "labelFontSize": 12, "labelColor": "#000000", "labelPadding": 8, "labelAngle": 0, "labelOverlap": false, "labelFlush": false, "labelBound": false,
 "ticks": false, "domain": false, "grid": true, "gridWidth": 1,
 "gridColor": {"condition": {"test": "(datum.value - 1360022400000) % 8640000000 === 0", "value": "#9a9a9a"}, "value": "#c4c4c4"}}},
"y": {"field": "v", "type": "quantitative", "scale": {"domain": [-30, 10], "nice": false, "zero": false},
 "axis": {"title": "Settlement [mm]", "titleFont": "Liberation Sans", "titleFontSize": 10.5, "titleFontWeight": "bold", "titleColor": "#000000", "titlePadding": 15,
 "values": [-30,-29,-28,-27,-26,-25,-24,-23,-22,-21,-20,-19,-18,-17,-16,-15,-14,-13,-12,-11,-10,-9,-8,-7,-6,-5,-4,-3,-2,-1,0,1,2,3,4,5,6,7,8,9,10],
 "labelExpr": "datum.value % 5 === 0 ? '' + datum.value : ''",
 "labelFont": "DejaVu Sans", "labelFontSize": 11.5, "labelColor": "#000000", "labelPadding": 8, "labelOverlap": false, "labelFlush": false, "labelBound": false,
 "ticks": true, "tickSize": 4, "tickColor": {"condition": {"test": "datum.value % 5 === 0", "value": "#888888"}, "value": "transparent"},
 "domain": true, "domainColor": "#888888",
 "grid": true, "gridWidth": 1.5,
 "gridColor": {"condition": {"test": "datum.value % 5 === 0", "value": "#a8a8a8"}, "value": "#dcdcdc"}}},
"color": {"field": "s", "type": "nominal",
 "scale": {"domain": ["2mm/year","E09LP116","E09LP115","E09LP114","E09LP113","E09LP112","E09LP111","E09LP110","E09LP109","E09LP108","E09LP107","E09LP106","E09LP105","E09LP104","E09LP103","E09LP102","E09LP101","E09LP100","E09LP099","E09LP098","E09LP097","E09LP096","E09LP095","E09LP094","E09LP093","E09LP092","E09LP094b","E09LP093b","E09LP092b","E09LP091"],
  "range": ["#ff0000","#5b7fb4","#7e9a47","#5e4b85","#3f97ad","#d07d3e","#3b6aa0","#be4b48","#98b954","#7d60a0","#46aac5","#e8904c","#4a7ebb","#c0504d","#9bbb59","#8064a2","#4bacc6","#f79646","#7a9cce","#d38482","#b3cc82","#9d88ba","#78c3d6","#f9ae72","#a3bade","#e3a6a5","#c6d7a6","#b4aacb","#a6d4e2","#fbc39e"]},
 "legend": {"orient": "none", "legendX": 1039, "legendY": -61, "direction": "vertical", "title": null, "padding": 0,
  "symbolType": "stroke", "symbolSize": 1156, "symbolStrokeWidth": 2, "clipHeight": 12, "rowPadding": 5.3,
  "labelFont": "DejaVu Sans", "labelFontSize": 9, "labelColor": "#333333", "labelOffset": 3, "labelLimit": 200,
  "labelExpr": "slice(datum.label, 0, 8)",
  "encode": {"symbols": {"update": {"strokeWidth": {"signal": "datum.value === '2mm/year' ? 3.5 : 2"}}}}}},
"strokeWidth": {"condition": {"test": "datum.s === '2mm/year'", "value": 6}, "value": 2}
}
}
]
}
